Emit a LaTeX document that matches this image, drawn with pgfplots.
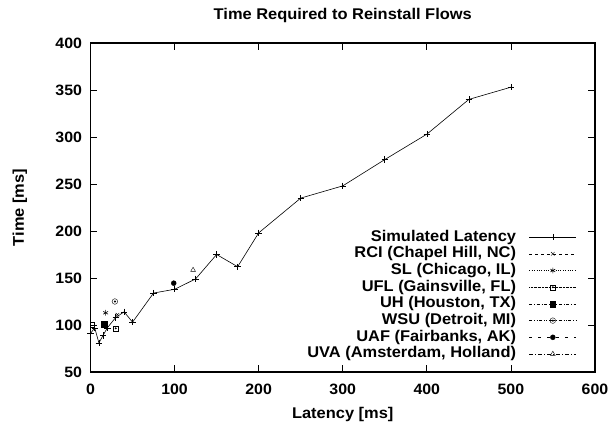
\documentclass[border=0pt]{standalone}
\usepackage{fontspec}
\setmainfont{Liberation Sans}[FakeStretch=1.06]
\usepackage{pgfplots}
\pgfplotsset{compat=1.18}
\pgfdeclareplotmark{sqdot}{%
  \pgfpathrectangle{\pgfpoint{-\pgfplotmarksize}{-\pgfplotmarksize}}{\pgfpoint{2\pgfplotmarksize}{2\pgfplotmarksize}}%
  \pgfusepathqstroke
  \pgfpathcircle{\pgfpointorigin}{0.3\pgfplotmarksize}\pgfusepathqfillstroke}
\pgfdeclareplotmark{circdot}{%
  \pgfpathcircle{\pgfpointorigin}{\pgfplotmarksize}\pgfusepathqstroke
  \pgfpathcircle{\pgfpointorigin}{0.3\pgfplotmarksize}\pgfusepathqfillstroke}
\begin{document}
\begin{tikzpicture}
\begin{axis}[
  at={(0,0)}, anchor=south west,
  scale only axis, width=504.5bp, height=329bp,
  xmin=0, xmax=600, ymin=50, ymax=400,
  xtick={0,100,...,600}, ytick={50,100,...,400},
  tick align=inside, major tick length=7bp,
  axis line style={line width=1.2pt},
  tick style={line width=0.8pt, black},
  /pgf/number format/assume math mode=true,
  ticklabel style={font=\bfseries\fontsize{15bp}{17bp}\selectfont},
  xticklabel style={yshift=-8.5bp},
  yticklabel style={xshift=-5bp},
  title={Time Required to Reinstall Flows},
  title style={font=\bfseries\fontsize{15.5bp}{17bp}\selectfont, at={(axis description cs:0.5,1.065)}, anchor=center},
  xlabel={Latency [ms]}, ylabel={Time [ms]},
  label style={font=\bfseries\fontsize{15.5bp}{17bp}\selectfont},
  xlabel style={at={(axis description cs:0.5,-0.128)}, anchor=center},
  ylabel style={at={(axis description cs:-0.14,0.5)}, anchor=center, rotate=0},
  legend plot pos=right,
  legend cell align=right,
  legend style={draw=none, fill=none, at={(0.964,0.032)}, anchor=south east,
    font=\bfseries\fontsize{15.5bp}{17bp}\selectfont,
    nodes={text height=11.2bp, text depth=3.3bp, inner sep=0pt},
    row sep=2.2bp, inner sep=0pt,
    /tikz/every odd column/.append style={column sep=13bp}},
  legend image code/.code={%
    \draw[mark repeat=2,mark phase=2,#1] plot coordinates {(0bp,0bp) (23.5bp,0bp) (47bp,0bp)};},
  mark size=2.2bp,
]
\addplot[black, line width=0.6pt, mark=+, mark size=3.2bp, mark options={solid}] coordinates {
(0,91) (5,97) (10,81) (15,89) (20,97) (30,108) (40,114) (50,103) (75,134) (100,138)
(125,149) (150,175) (175,162) (200,198) (250,235) (300,248) (350,276) (400,303)
(450,340) (500,353)};
\addlegendentry{Simulated Latency}
\addplot[black, line width=0.4pt, dashed, mark=x, mark size=2.5bp, mark options={solid}] coordinates {(32,111)};
\addlegendentry{RCI (Chapel Hill, NC)}
\addplot[black, line width=0.4pt, dotted, mark=asterisk, mark size=2.8bp, mark options={solid, line width=0.6pt}] coordinates {(18,113)};
\addlegendentry{SL (Chicago, IL)}
\addplot[black, line width=0.4pt, densely dotted, mark=sqdot, mark size=2.5bp, mark options={solid}] coordinates {(30,96.5)};
\addlegendentry{UFL (Gainsville, FL)}
\addplot[black, line width=0.4pt, dash dot, mark=square*, mark size=2.8bp, mark options={solid}] coordinates {(16,101)};
\addlegendentry{UH (Houston, TX)}
\addplot[black, line width=0.4pt, dash dot dot, mark=circdot, mark size=2.8bp, mark options={solid}] coordinates {(29,125)};
\addlegendentry{WSU (Detroit, MI)}
\addplot[black, line width=0.4pt, loosely dashed, mark=*, mark size=2.5bp, mark options={solid}] coordinates {(99,144.5)};
\addlegendentry{UAF (Fairbanks, AK)}
\addplot[black, line width=0.4pt, dash pattern=on 4bp off 2bp on 1bp off 2bp, mark=triangle, mark size=2.8bp, mark options={solid}] coordinates {(122,158.5)};
\addlegendentry{UVA (Amsterdam, Holland)}
\addplot[black, only marks, mark=square, mark size=2.4bp, forget plot] coordinates {(2,100)};
\end{axis}
\path (-90.5bp,-53bp) rectangle (524.5bp,372bp);
\end{tikzpicture}
\end{document}
